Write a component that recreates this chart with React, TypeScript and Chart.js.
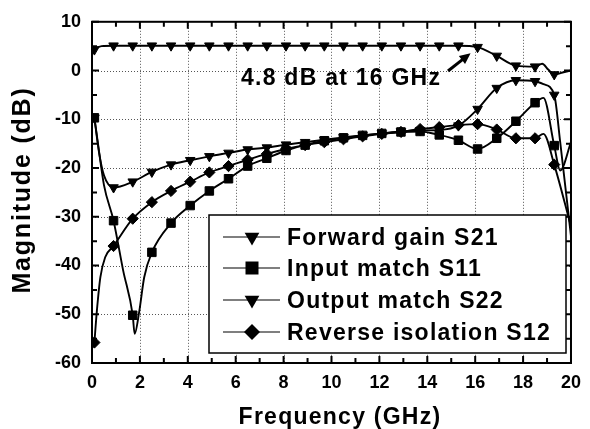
import { useEffect, useRef } from 'react';
import { Chart, registerables } from 'chart.js';

Chart.register(...registerables);

// ---- data ----
const MARKER_FREQS = [0.1, 0.9, 1.7, 2.5, 3.3, 4.1, 4.9, 5.7, 6.5, 7.3, 8.1, 8.9, 9.7, 10.5, 11.3, 12.1, 12.9, 13.7, 14.5, 15.3, 16.1, 16.9, 17.7, 18.5, 19.3];

const S21_X = [0, 0.1, 0.4, 0.9, 1.7, 2.5, 3.3, 4.1, 4.9, 5.7, 6.5, 7.3, 8.1, 8.9, 9.7, 10.5, 11.3, 12.1, 12.9, 13.7, 14.5, 15.3, 16.1, 16.9, 17.7, 18.5, 18.8, 19.05, 19.3, 19.65, 20];
const S21_Y = [3.4, 4.3, 5.0, 5.1, 5.1, 5.1, 5.1, 5.1, 5.1, 5.1, 5.1, 5.1, 5.1, 5.1, 5.1, 5.1, 5.1, 5.1, 5.1, 5.1, 5.1, 5.1, 4.8, 3.0, 1.0, 0.8, 1.4, 0.2, -0.8, -0.4, 0];

const S11_X = [0.1, 0.25, 0.5, 0.9, 1.3, 1.7, 1.78, 1.97, 2.18, 2.5, 3.3, 4.1, 4.9, 5.7, 6.5, 7.3, 8.1, 8.9, 9.7, 10.5, 11.3, 12.1, 12.9, 13.7, 14.5, 15.3, 16.1, 16.9, 17.7, 18.5, 18.85, 19.3, 19.55, 20];
const S11_Y = [-9.7, -15, -23.5, -30.8, -41, -50.2, -54, -49.5, -42.4, -37.3, -31.3, -27.7, -24.7, -22.2, -19.6, -18.0, -16.4, -15.3, -14.4, -13.8, -13.3, -12.9, -12.6, -12.5, -13.2, -14.3, -16.1, -13.9, -10.4, -6.6, -5.6, -15.4, -20.5, -14.7];

const S22_X = [0.1, 0.3, 0.5, 0.9, 1.7, 2.5, 3.3, 4.1, 4.9, 5.7, 6.5, 7.3, 8.1, 8.9, 9.7, 10.5, 11.3, 12.1, 12.9, 13.7, 14.5, 15.3, 16.1, 16.9, 17.7, 18.5, 18.85, 19.3, 19.55, 20];
const S22_Y = [-9.7, -17, -21.5, -24.0, -22.8, -20.8, -19.3, -18.4, -17.6, -16.9, -16.2, -15.8, -15.2, -14.7, -14.2, -13.7, -13.3, -12.9, -12.5, -12.3, -12.2, -11.3, -7.9, -3.6, -2.0, -2.2, -2.8, -5.0, -14.7, -34];

const S12_X = [0.1, 0.2, 0.35, 0.55, 0.9, 1.7, 2.5, 3.3, 4.1, 4.9, 5.7, 6.5, 7.3, 8.1, 8.9, 9.7, 10.5, 11.3, 12.1, 12.9, 13.7, 14.5, 15.3, 16.1, 16.9, 17.7, 18.5, 18.85, 19.3, 20];
const S12_Y = [-55.8, -49.5, -42.4, -38.3, -36.0, -30.4, -27.0, -24.7, -22.8, -20.9, -19.6, -18.3, -17.1, -16.1, -15.3, -14.7, -14.1, -13.5, -13.0, -12.6, -12.0, -11.6, -11.2, -11.0, -12.1, -13.9, -13.9, -13.0, -19.3, -32];

const LEGEND_LABELS = ['Forward gain S21', 'Input match S11', 'Output match S22', 'Reverse isolation S12'];
const X_TITLE = 'Frequency (GHz)';
const Y_TITLE = 'Magnitude (dB)';
const NOTE = '4.8 dB at 16 GHz';
const NOTE_FREQ = 16.1;
const NOTE_DB = 4.8;

const FONT = "'Liberation Sans', Arial, sans-serif";

function pts(xs: number[], ys: number[]) {
  return xs.map((x, i) => ({ x, y: ys[i] }));
}

function isMarker(x: number) {
  return MARKER_FREQS.some((m) => Math.abs(m - x) < 1e-6);
}

type Shape = 'tri' | 'rect' | 'diamond';

function drawShape(ctx: CanvasRenderingContext2D, shape: Shape, x: number, y: number, r: number) {
  ctx.beginPath();
  if (shape === 'tri') {
    const h = r * 1.5;
    const w = r * Math.sqrt(3);
    ctx.moveTo(x - w / 2, y - h / 3);
    ctx.lineTo(x + w / 2, y - h / 3);
    ctx.lineTo(x, y + (2 * h) / 3);
    ctx.closePath();
  } else if (shape === 'rect') {
    ctx.rect(x - r, y - r, 2 * r, 2 * r);
  } else {
    ctx.moveTo(x, y - r);
    ctx.lineTo(x + r, y);
    ctx.lineTo(x, y + r);
    ctx.lineTo(x - r, y);
    ctx.closePath();
  }
  ctx.fill();
}

const decorPlugin = {
  id: 'decor',
  beforeDatasetsDraw(chart: any) {
    const ctx = chart.ctx as CanvasRenderingContext2D;
    const { left, right, top, bottom } = chart.chartArea;
    const xs = chart.scales.x;
    const ys = chart.scales.y;
    ctx.save();
    ctx.strokeStyle = '#555';
    ctx.lineWidth = 1;
    ctx.setLineDash([1, 2]);
    xs.ticks.forEach((t: any) => {
      if (t.value <= xs.min || t.value >= xs.max) return;
      const px = Math.round(xs.getPixelForValue(t.value)) + 0.5;
      ctx.beginPath();
      ctx.moveTo(px, top);
      ctx.lineTo(px, bottom);
      ctx.stroke();
    });
    ys.ticks.forEach((t: any) => {
      if (t.value <= ys.min || t.value >= ys.max) return;
      const py = Math.round(ys.getPixelForValue(t.value)) + 0.5;
      ctx.beginPath();
      ctx.moveTo(left, py);
      ctx.lineTo(right, py);
      ctx.stroke();
    });
    ctx.restore();
  },
  afterDatasetsDraw(chart: any) {
    const ctx = chart.ctx as CanvasRenderingContext2D;
    const { left, right, top, bottom } = chart.chartArea;
    const xs = chart.scales.x;
    const ys = chart.scales.y;
    ctx.save();
    // frame
    ctx.strokeStyle = '#000';
    ctx.lineWidth = 2;
    ctx.strokeRect(left, top, right - left, bottom - top);
    // inward ticks on all sides
    for (let v = xs.min; v <= xs.max + 1e-9; v += 1) {
      const px = xs.getPixelForValue(v);
      const len = Math.abs(v % 2) < 1e-9 ? 7 : 5;
      ctx.beginPath();
      ctx.moveTo(px, bottom);
      ctx.lineTo(px, bottom - len);
      ctx.moveTo(px, top);
      ctx.lineTo(px, top + len);
      ctx.stroke();
    }
    for (let v = ys.min; v <= ys.max + 1e-9; v += 5) {
      const py = ys.getPixelForValue(v);
      const len = Math.abs(v % 10) < 1e-9 ? 7 : 5;
      ctx.beginPath();
      ctx.moveTo(left, py);
      ctx.lineTo(left + len, py);
      ctx.moveTo(right, py);
      ctx.lineTo(right - len, py);
      ctx.stroke();
    }

    // legend
    const bx = 209, by = 215, bw = 357, bh = 138;
    ctx.fillStyle = '#fff';
    ctx.fillRect(bx, by, bw, bh);
    ctx.lineWidth = 1.5;
    ctx.strokeStyle = '#000';
    ctx.strokeRect(bx, by, bw, bh);
    const shapes: Shape[] = ['tri', 'rect', 'tri', 'diamond'];
    const sizes = [8.5, 6.5, 8.5, 8];
    const rows = [237, 268, 300, 332];
    (ctx as any).letterSpacing = '1.25px';
    ctx.font = `bold 23px ${FONT}`;
    ctx.textBaseline = 'alphabetic';
    ctx.textAlign = 'left';
    LEGEND_LABELS.forEach((lab, i) => {
      const y = rows[i];
      ctx.strokeStyle = '#000';
      ctx.lineWidth = 1.2;
      ctx.beginPath();
      ctx.moveTo(223, y);
      ctx.lineTo(280, y);
      ctx.stroke();
      ctx.fillStyle = '#000';
      drawShape(ctx, shapes[i], 252, y, sizes[i]);
      ctx.fillText(lab, 287, y + 8);
    });

    // annotation
    ctx.fillText(NOTE, 241, 85);
    const tipX = xs.getPixelForValue(NOTE_FREQ) - 7;
    const tipY = ys.getPixelForValue(NOTE_DB) + 6;
    const sx = 448, sy = 71;
    const ang = Math.atan2(tipY - sy, tipX - sx);
    ctx.lineWidth = 3;
    ctx.beginPath();
    ctx.moveTo(sx, sy);
    ctx.lineTo(tipX - 8 * Math.cos(ang), tipY - 8 * Math.sin(ang));
    ctx.stroke();
    ctx.beginPath();
    ctx.moveTo(tipX, tipY);
    ctx.lineTo(tipX - 11 * Math.cos(ang) + 5 * Math.sin(ang), tipY - 11 * Math.sin(ang) - 5 * Math.cos(ang));
    ctx.lineTo(tipX - 11 * Math.cos(ang) - 5 * Math.sin(ang), tipY - 11 * Math.sin(ang) + 5 * Math.cos(ang));
    ctx.closePath();
    ctx.fill();

    // axis titles
    ctx.textAlign = 'center';
    ctx.font = `bold 23px ${FONT}`;
    ctx.fillText(X_TITLE, 340, 424);
    ctx.save();
    (ctx as any).letterSpacing = '1.8px';
    ctx.font = `bold 25px ${FONT}`;
    ctx.translate(30, 190);
    ctx.rotate(-Math.PI / 2);
    ctx.fillText(Y_TITLE, 0, 0);
    ctx.restore();
    ctx.restore();
  },
};

function ds(label: string, xs: number[], ys: number[], style: string, rot: number, r: number) {
  return {
    label,
    data: pts(xs, ys),
    borderColor: '#000',
    backgroundColor: '#000',
    borderWidth: 1.9,
    pointStyle: style,
    pointRotation: rot,
    pointBorderWidth: 1,
    pointBorderColor: '#000',
    pointBackgroundColor: '#000',
    pointRadius: (c: any) => (c.raw && isMarker(c.raw.x) ? r : 0),
    cubicInterpolationMode: 'monotone',
    fill: false,
  };
}

export default function App() {
  const ref = useRef<HTMLCanvasElement>(null);
  useEffect(() => {
    document.body.style.margin = '0';
    const canvas = ref.current!;
    const chart = new Chart(canvas, {
      type: 'line',
      data: {
        datasets: [
          ds(LEGEND_LABELS[0], S21_X, S21_Y, 'triangle', 180, 5.5),
          ds(LEGEND_LABELS[1], S11_X, S11_Y, 'rect', 0, 6),
          ds(LEGEND_LABELS[2], S22_X, S22_Y, 'triangle', 180, 5.5),
          ds(LEGEND_LABELS[3], S12_X, S12_Y, 'rectRot', 0, 5.6),
        ] as any,
      },
      options: {
        responsive: false,
        animation: false,
        devicePixelRatio: 1,
        events: [],
        layout: { padding: { top: 17, right: 10, left: 0, bottom: 0 } },
        plugins: { legend: { display: false }, tooltip: { enabled: false } },
        scales: {
          x: {
            type: 'linear',
            min: 0,
            max: 20,
            grid: { display: false, drawTicks: false },
            border: { display: false },
            ticks: {
              stepSize: 2,
              color: '#000',
              padding: 9,
              font: { family: FONT, size: 18, weight: 'bold' },
              maxRotation: 0,
            },
            afterFit: (s: any) => {
              s.height = 66;
            },
          },
          y: {
            type: 'linear',
            min: -60,
            max: 10,
            grid: { display: false, drawTicks: false },
            border: { display: false },
            ticks: {
              stepSize: 10,
              color: '#000',
              padding: 11,
              font: { family: FONT, size: 18, weight: 'bold' },
            },
            afterFit: (s: any) => {
              s.width = 92;
            },
          },
        },
      } as any,
      plugins: [decorPlugin],
    });
    return () => chart.destroy();
  }, []);
  return (
    <div style={{ width: 590, height: 429 }}>
      <canvas ref={ref} width={590} height={429} style={{ display: 'block' }} />
    </div>
  );
}
